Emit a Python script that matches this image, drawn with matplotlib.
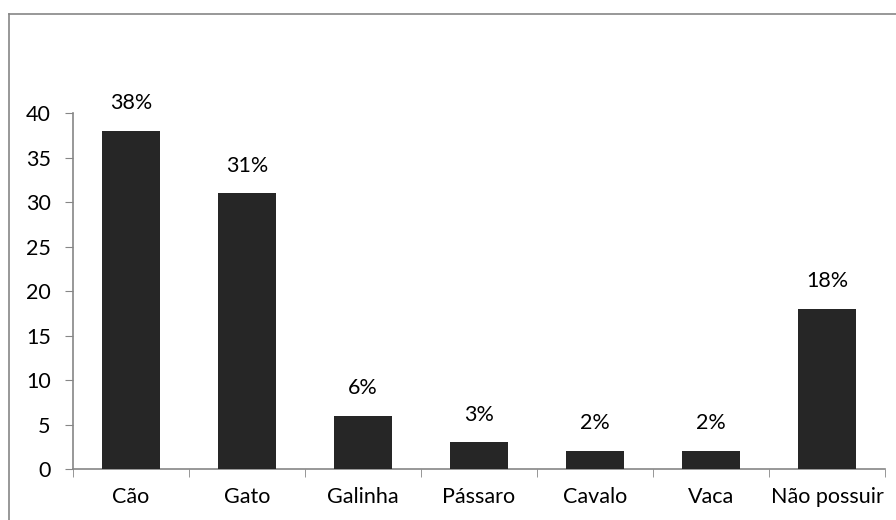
import matplotlib
matplotlib.use("Agg")
import numpy as np
from matplotlib import pyplot as plt
from matplotlib.lines import Line2D

categories = ["Cão", "Gato", "Galinha", "Pássaro", "Cavalo", "Vaca", "Não possuir"]
values = [38, 31, 6, 3, 2, 2, 18]
labels = ["38%", "31%", "6%", "3%", "2%", "2%", "18%"]

plt.rcParams['font.family'] = ['Lato', 'DejaVu Sans']
fs = 15.5

fig = plt.figure(figsize=(8.96, 5.2), dpi=100)
ax = fig.add_axes([73 / 896, 1 - 469 / 520, 812 / 896, (469 - 113.3) / 520])

x = np.arange(len(categories))
ax.bar(x, values, width=0.5, color='#262626', zorder=3)
for xi, v, lab in zip(x, values, labels):
    ax.text(xi, v + 2.0, lab, ha='center', va='bottom', fontsize=fs, color='black')

ax.set_xlim(-0.5, len(categories) - 0.5)
ax.set_ylim(0, 40)
ax.set_yticks(range(0, 41, 5))
ax.set_xticks(x)
ax.set_xticklabels(categories, fontsize=fs)
ax.set_xticks(np.arange(-0.5, len(categories), 1), minor=True)
ax.tick_params(axis='x', which='major', length=0, pad=13)
ax.tick_params(axis='x', which='minor', length=6, color='#868686', direction='out')
ax.tick_params(axis='y', length=6, color='#868686', labelsize=fs, pad=10)

for s in ['top', 'right']:
    ax.spines[s].set_visible(False)
ax.spines['left'].set_color('#868686')
ax.spines['bottom'].set_color('#868686')
ax.spines['left'].set_linewidth(1.2)
ax.spines['bottom'].set_linewidth(1.2)
ax.spines['left'].set_bounds(0, 40)

# outer chart border (Excel chart area)
fig.add_artist(Line2D([8.5 / 896, 8.5 / 896], [0, 1 - 13.5 / 520], color='#868686', lw=1.2, transform=fig.transFigure))
fig.add_artist(Line2D([8.5 / 896, 1], [1 - 13.5 / 520, 1 - 13.5 / 520], color='#868686', lw=1.2, transform=fig.transFigure))

fig.savefig("out.png", dpi=100)
